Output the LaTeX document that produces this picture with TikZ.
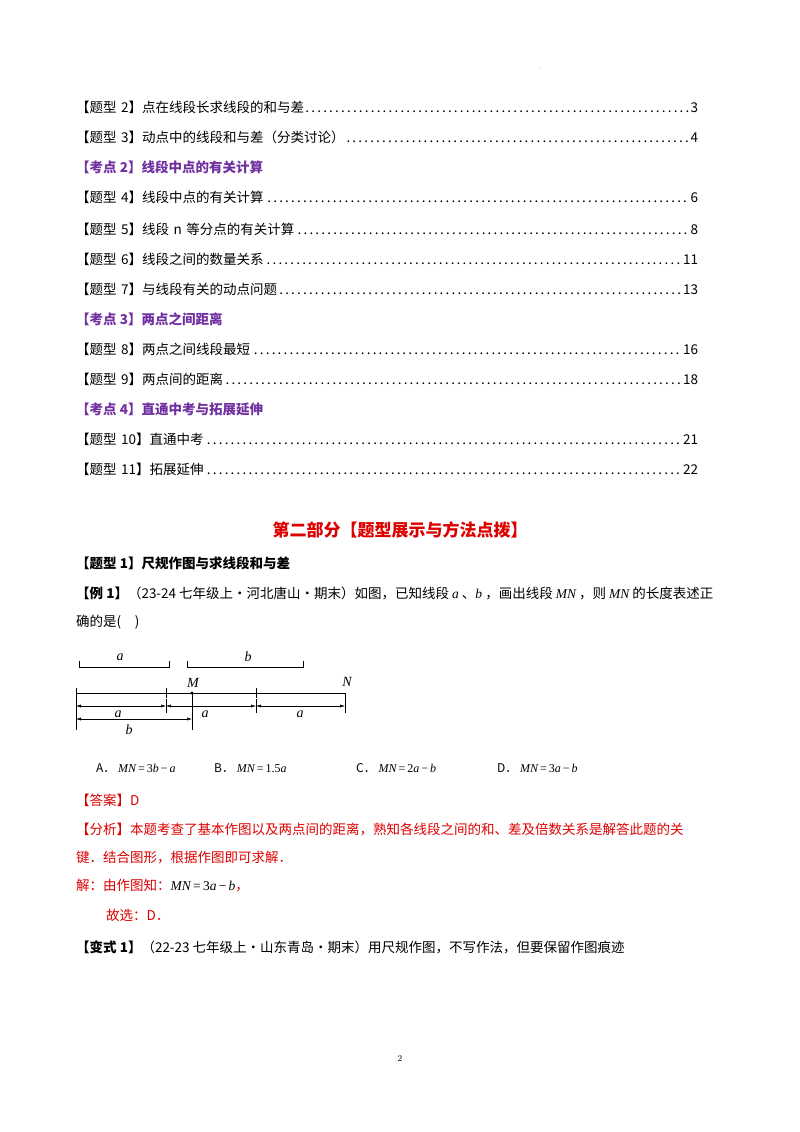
\documentclass[tikz,border=0pt]{standalone}
\usepackage{fontspec}
\newfontfamily\cjk{Noto Sans CJK SC}
\newfontfamily\tms{Liberation Serif}
\newcommand\vi[1]{{\tms\itshape #1}}
\newcommand\vr[1]{{\tms #1}}
\usetikzlibrary{arrows.meta}
\definecolor{pur}{RGB}{112,48,160}
\definecolor{rd}{RGB}{220,0,0}
\tikzset{
 toc/.style={anchor=west,text width=622pt,inner sep=0pt,font=\cjk\fontsize{13.5pt}{15pt}\selectfont},
 hd/.style={anchor=west,inner sep=0pt,font=\cjk\bfseries\fontsize{13.5pt}{15pt}\selectfont,text=pur},
 body/.style={anchor=west,inner sep=0pt,font=\cjk\fontsize{13.5pt}{15pt}\selectfont},
 dim/.style={{Latex[length=5pt,width=3pt]}-{Latex[length=5pt,width=3pt]},thin},
 lab/.style={font=\tms\itshape\fontsize{14pt}{16pt}\selectfont,inner sep=1pt},
 opt/.style={anchor=west,inner sep=0pt,font=\cjk\fontsize{12pt}{14pt}\selectfont}
}
\begin{document}
\begin{tikzpicture}[x=1pt,y=-1pt]
\useasboundingbox (0,0) rectangle (800,1132);
\node[font=\tiny] (dot) at (540,68) {.};
\node[toc] (t2) at (76,107) {【题型 2】点在线段长求线段的和与差\dotfill 3};
\node[toc] (t3) at (76,137) {【题型 3】动点中的线段和与差（分类讨论）\dotfill 4};
\node[hd] (k2) at (76,167) {【考点 2】线段中点的有关计算};
\node[toc] (t4) at (76,197) {【题型 4】线段中点的有关计算\dotfill 6};
\node[toc] (t5) at (76,229) {【题型 5】线段 n 等分点的有关计算\dotfill 8};
\node[toc] (t6) at (76,259) {【题型 6】线段之间的数量关系\dotfill 11};
\node[toc] (t7) at (76,289) {【题型 7】与线段有关的动点问题\dotfill 13};
\node[hd] (k3) at (76,319) {【考点 3】两点之间距离};
\node[toc] (t8) at (76,349) {【题型 8】两点之间线段最短\dotfill 16};
\node[toc] (t9) at (76,379) {【题型 9】两点间的距离\dotfill 18};
\node[hd] (k4) at (76,409) {【考点 4】直通中考与拓展延伸};
\node[toc] (t10) at (76,439) {【题型 10】直通中考\dotfill 21};
\node[toc] (t11) at (76,469) {【题型 11】拓展延伸\dotfill 22};
\node[font=\cjk\bfseries\fontsize{17pt}{19pt}\selectfont,text=rd] (title) at (400,530) {第二部分【题型展示与方法点拨】};
\node[body,font=\cjk\bfseries\fontsize{13.5pt}{15pt}\selectfont] (q1) at (76,563) {【题型 1】尺规作图与求线段和与差};
\node[body] (ex1) at (76,593) {\textbf{【例 1】}（23-24 七年级上·河北唐山·期末）如图，已知线段 \vi{a} 、\vi{b} ，画出线段 \vi{MN} ，则 \vi{MN} 的长度表述正};
\node[body] (ex1b) at (76,622) {确的是(\quad)};
% figure
\draw (79,661)--(79,667)--(169,667)--(169,661);
\node[lab] (la) at (120,657) {a};
\draw (187,661)--(187,667)--(303,667)--(303,661);
\node[lab] (lb) at (248,657) {b};
\draw[thick] (76,693)--(345,693);
\draw (166,688)--(166,698);
\draw (256,688)--(256,698);
\fill (192,693) circle (1.6);
\node[lab] (M) at (193,683) {M};
\node[lab] (N) at (347,682) {N};
\draw (76,688)--(76,730);
\draw (192,693)--(192,730);
\draw (166,699)--(166,713);
\draw (256,699)--(256,713);
\draw (345,693)--(345,713);
\draw[dim] (76,706)--(166,706);
\draw[dim] (166,706)--(256,706);
\draw[dim] (256,706)--(345,706);
\draw[dim] (76,719)--(192,719);
\node[lab] (a1) at (118,714) {a};
\node[lab] (a2) at (205,714) {a};
\node[lab] (a3) at (300,714) {a};
\node[lab] (b1) at (129,730) {b};
\node[opt] (oa) at (96,768) {A．\ \vi{MN}\vr{\,=\,3}\vi{b}\vr{\,−\,}\vi{a}};
\node[opt] (ob) at (214,768) {B．\ \vi{MN}\vr{\,=\,1.5}\vi{a}};
\node[opt] (oc) at (356,768) {C．\ \vi{MN}\vr{\,=\,2}\vi{a}\vr{\,−\,}\vi{b}};
\node[opt] (od) at (497,768) {D．\ \vi{MN}\vr{\,=\,3}\vi{a}\vr{\,−\,}\vi{b}};
\node[body,text=rd] (ans) at (76,800) {【答案】D};
\node[body,text=rd] (an1) at (76,829) {【分析】本题考查了基本作图以及两点间的距离，熟知各线段之间的和、差及倍数关系是解答此题的关};
\node[body,text=rd] (an2) at (76,858) {键．结合图形，根据作图即可求解．};
\node[body,text=rd] (an3) at (76,886) {解：由作图知：{\color{black}\vi{MN}\vr{\,=\,3}\vi{a}\vr{\,−\,}\vi{b}}，};
\node[body,text=rd] (an4) at (106,915) {故选：D．};
\node[body] (v1) at (76,947) {\textbf{【变式 1】}（22-23 七年级上·山东青岛·期末）用尺规作图，不写作法，但要保留作图痕迹};
\node[font=\small] (pg) at (400,1058) {2};
\end{tikzpicture}
\end{document}
